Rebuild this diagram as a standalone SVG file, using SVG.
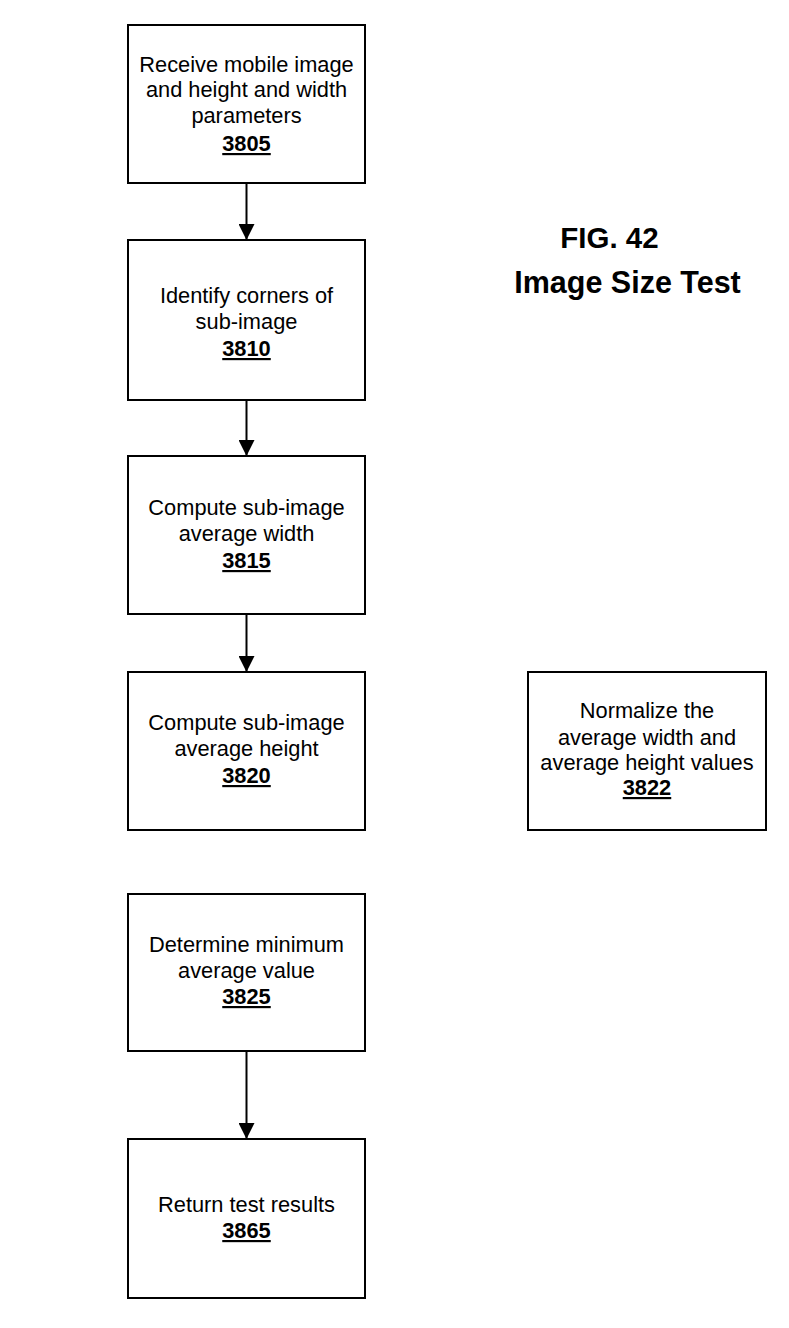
<svg xmlns="http://www.w3.org/2000/svg" width="789" height="1328" viewBox="0 0 789 1328">
<defs>
<style>
.box{fill:#fff;stroke:#000;stroke-width:2}
.t{font-family:"Liberation Sans",Arial,sans-serif;font-size:21.8px;fill:#000;text-anchor:middle}
.n{font-weight:bold;text-decoration:underline}
.title{font-family:"Liberation Sans",Arial,sans-serif;font-weight:bold;fill:#000;text-anchor:middle}
.c{stroke:#000;stroke-width:2;fill:none}
</style>
<marker id="ah" markerUnits="userSpaceOnUse" markerWidth="18" markerHeight="16" refX="16" refY="8" orient="auto">
<path d="M0,0 L16,8 L0,16 Z" fill="#000"/>
</marker>
</defs>
<rect width="789" height="1328" fill="#fff"/>
<g id="title">
<text class="title" x="609.5" y="248" font-size="29.5">FIG. 42</text>
<text class="title" x="627.5" y="293" font-size="30.5">Image Size Test</text>
</g>
<g id="connectors">
<line class="c" x1="246.5" y1="183" x2="246.5" y2="240" marker-end="url(#ah)"/>
<line class="c" x1="246.5" y1="400" x2="246.5" y2="456" marker-end="url(#ah)"/>
<line class="c" x1="246.5" y1="614" x2="246.5" y2="672" marker-end="url(#ah)"/>
<line class="c" x1="246.5" y1="1051" x2="246.5" y2="1139" marker-end="url(#ah)"/>
</g>
<g id="n3805">
<rect class="box" x="128" y="25" width="237" height="158"/>
<text class="t" x="246.5" y="72">Receive mobile image</text>
<text class="t" x="246.5" y="97">and height and width</text>
<text class="t" x="246.5" y="123">parameters</text>
<text class="t n" x="246.5" y="151">3805</text>
</g>
<g id="n3810">
<rect class="box" x="128" y="240" width="237" height="160"/>
<text class="t" x="246.5" y="303">Identify corners of</text>
<text class="t" x="246.5" y="329">sub-image</text>
<text class="t n" x="246.5" y="356">3810</text>
</g>
<g id="n3815">
<rect class="box" x="128" y="456" width="237" height="158"/>
<text class="t" x="246.5" y="515">Compute sub-image</text>
<text class="t" x="246.5" y="541">average width</text>
<text class="t n" x="246.5" y="568">3815</text>
</g>
<g id="n3820">
<rect class="box" x="128" y="672" width="237" height="158"/>
<text class="t" x="246.5" y="730">Compute sub-image</text>
<text class="t" x="246.5" y="756">average height</text>
<text class="t n" x="246.5" y="783">3820</text>
</g>
<g id="n3822">
<rect class="box" x="528" y="672" width="238" height="158"/>
<text class="t" x="647" y="718">Normalize the</text>
<text class="t" x="647" y="745">average width and</text>
<text class="t" x="647" y="770">average height values</text>
<text class="t n" x="647" y="795">3822</text>
</g>
<g id="n3825">
<rect class="box" x="128" y="894" width="237" height="157"/>
<text class="t" x="246.5" y="952">Determine minimum</text>
<text class="t" x="246.5" y="978">average value</text>
<text class="t n" x="246.5" y="1004">3825</text>
</g>
<g id="n3865">
<rect class="box" x="128" y="1139" width="237" height="159"/>
<text class="t" x="246.5" y="1212">Return test results</text>
<text class="t n" x="246.5" y="1238">3865</text>
</g>
</svg>
